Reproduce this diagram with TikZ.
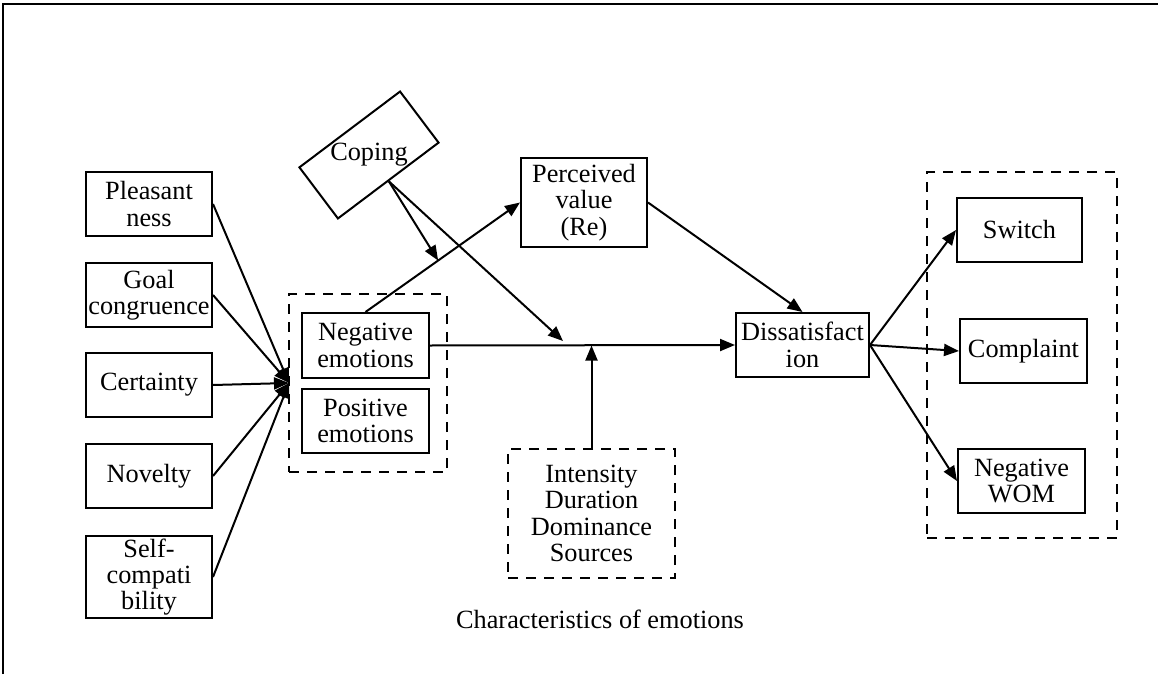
\documentclass[tikz,border=0pt]{standalone}
\usepackage{fontspec}
\setmainfont{Liberation Serif}
\usetikzlibrary{arrows.meta,calc}
\tikzset{
  every node/.style={font=\fontsize{26.3}{26.3}\selectfont, inner sep=0pt, align=center},
  box/.style={draw, line width=2pt, minimum width=126pt, minimum height=64pt},
  dashbox/.style={draw, line width=2pt, dash pattern=on 10pt off 8pt},
  conn/.style={line width=2pt, -{Triangle[length=15pt,width=12pt]}},
  plain/.style={line width=2pt}
}
\begin{document}
\begin{tikzpicture}[x=1pt,y=-1pt]
\useasboundingbox (0,0) rectangle (1158,674);
\draw[plain] (3,674) -- (3,4) -- (1158,4);
% left boxes
\node[box] (pleas) at (149,204) {Pleasant\\ness};
\node[box] (goal) at (149,295) {Goal\\congruence};
\node[box] (cert) at (149,385) {Certainty};
\node[box] (nov) at (149,476) {Novelty};
\node[box, minimum height=82pt] (self) at (149,577) {Self-\\compati\\bility};
% emotions group
\node[dashbox, minimum width=158pt, minimum height=178pt] (emogroup) at (368,383) {};
\node[box, minimum width=127pt, minimum height=65pt] (neg) at (365.5,345.5) {Negative\\emotions};
\node[box, minimum width=127pt] (pos) at (365.5,421) {Positive\\emotions};
\coordinate (conv) at (289,383);
\draw[conn] (pleas.east) -- (conv);
\draw[conn] (goal.east) -- (conv);
\draw[conn] (cert.east) -- (conv);
\draw[conn] (nov.east) -- (conv);
\draw[conn] (self.east) -- (conv);
% coping
\node[draw, line width=2pt, minimum width=126pt, minimum height=64pt, rotate=37] (copingbox) at (369,155) {};
\node (coping) at (369,155) {Coping};
% perceived value
\node[box, minimum height=89pt] (pv) at (584,202.5) {Perceived\\value\\(Re)};
% dissatisfaction
\node[box, minimum width=133pt] (dis) at (802.5,345) {Dissatisfact\\ion};
% intensity
\node[dashbox, minimum width=167pt, minimum height=129pt] (inten) at (591.5,513.5) {Intensity\\Duration\\Dominance\\Sources};
\node (charlabel) at (600,619) {Characteristics of emotions};
% outcomes
\node[dashbox, minimum width=190pt, minimum height=366pt] (outgroup) at (1022,355) {};
\node[box, minimum width=125pt] (switch) at (1019.5,230) {Switch};
\node[box, minimum width=127pt] (compl) at (1023.5,351) {Complaint};
\node[box, minimum width=127pt] (wom) at (1021.5,481) {Negative\\WOM};
% connectors
\draw[conn] (neg.north) -- (pv.west);
\coordinate (onpv) at ($(neg.north)!0.47!(pv.west)$);
\draw[conn] (copingbox.south) -- (onpv);
\coordinate (c2) at (563,341);
\draw[conn] (copingbox.south) -- (c2);
\draw[conn] (neg.east) -- (dis.west);
\draw[conn] (inten.north) -- (inten.north |- neg.east);
\draw[conn] (pv.east) -- (dis.north);
\draw[conn] (dis.east) -- (switch.west);
\draw[conn] (dis.east) -- (compl.west);
\draw[conn] (dis.east) -- (wom.west);
\end{tikzpicture}
\end{document}
